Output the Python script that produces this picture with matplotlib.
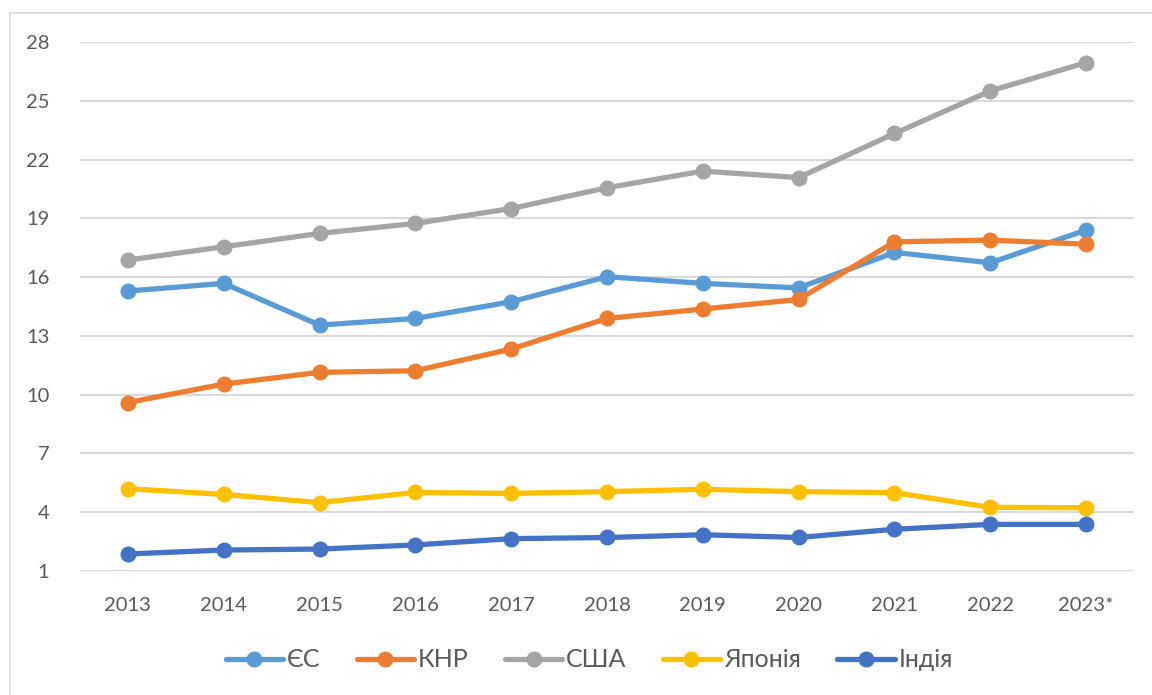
import matplotlib.pyplot as plt
from matplotlib.lines import Line2D

years = ["2013", "2014", "2015", "2016", "2017", "2018", "2019", "2020", "2021", "2022", "2023*"]

eu    = [15.29, 15.68, 13.55, 13.89, 14.74, 16.02, 15.68, 15.45, 17.26, 16.73, 18.40]
china = [9.60, 10.54, 11.14, 11.22, 12.33, 13.89, 14.37, 14.86, 17.80, 17.89, 17.68]
usa   = [16.87, 17.55, 18.23, 18.74, 19.50, 20.56, 21.41, 21.08, 23.33, 25.50, 26.95]
japan = [5.20, 4.91, 4.49, 5.01, 4.96, 5.05, 5.17, 5.05, 5.00, 4.25, 4.23]
india = [1.87, 2.07, 2.12, 2.33, 2.65, 2.71, 2.85, 2.71, 3.13, 3.38, 3.38]

names  = ["ЄС", "КНР", "США", "Японія", "Індія"]
series = [eu, china, usa, japan, india]
colors = ["#5B9BD5", "#ED7D31", "#A5A5A5", "#FFC000", "#4472C4"]

yticks = [1, 4, 7, 10, 13, 16, 19, 22, 25, 28]

plt.rcParams['font.family'] = ['Lato', 'DejaVu Sans']

fig = plt.figure(figsize=(11.52, 6.95), dpi=100)
ax = fig.add_axes([80 / 1152, (695 - 571) / 695, (1134 - 80) / 1152, (571 - 42) / 695])

x = list(range(len(years)))
for name, vals, c in zip(names, series, colors):
    ax.plot(x, vals, color=c, linewidth=3.8, marker="o", markersize=10.5,
            label=name, solid_capstyle="round")

ax.set_xlim(-0.5, len(years) - 0.5)
ax.set_ylim(1, 28)
ax.set_yticks(yticks)
ax.set_xticks(x)
ax.set_xticklabels(years)
ax.yaxis.grid(True, color="#D9D9D9", linewidth=1.5)
ax.set_axisbelow(True)
for s in ax.spines.values():
    s.set_visible(False)
ax.tick_params(axis="both", length=0, labelsize=14.5, labelcolor="#595959")
ax.tick_params(axis="y", pad=22)
ax.tick_params(axis="x", pad=19)

leg = ax.legend(loc="center", bbox_to_anchor=(0.483, -0.168), ncol=5, frameon=False,
                fontsize=18, handlelength=2.3, handletextpad=0.15, columnspacing=1.45)
for t in leg.get_texts():
    t.set_color("#595959")

# outer chart border
fig.add_artist(Line2D([10 / 1152, 10 / 1152], [0, (695 - 13) / 695], color="#D9D9D9", linewidth=1.2))
fig.add_artist(Line2D([10 / 1152, 1], [(695 - 13) / 695, (695 - 13) / 695], color="#D9D9D9", linewidth=1.2))

fig.savefig("out.png", dpi=100)
